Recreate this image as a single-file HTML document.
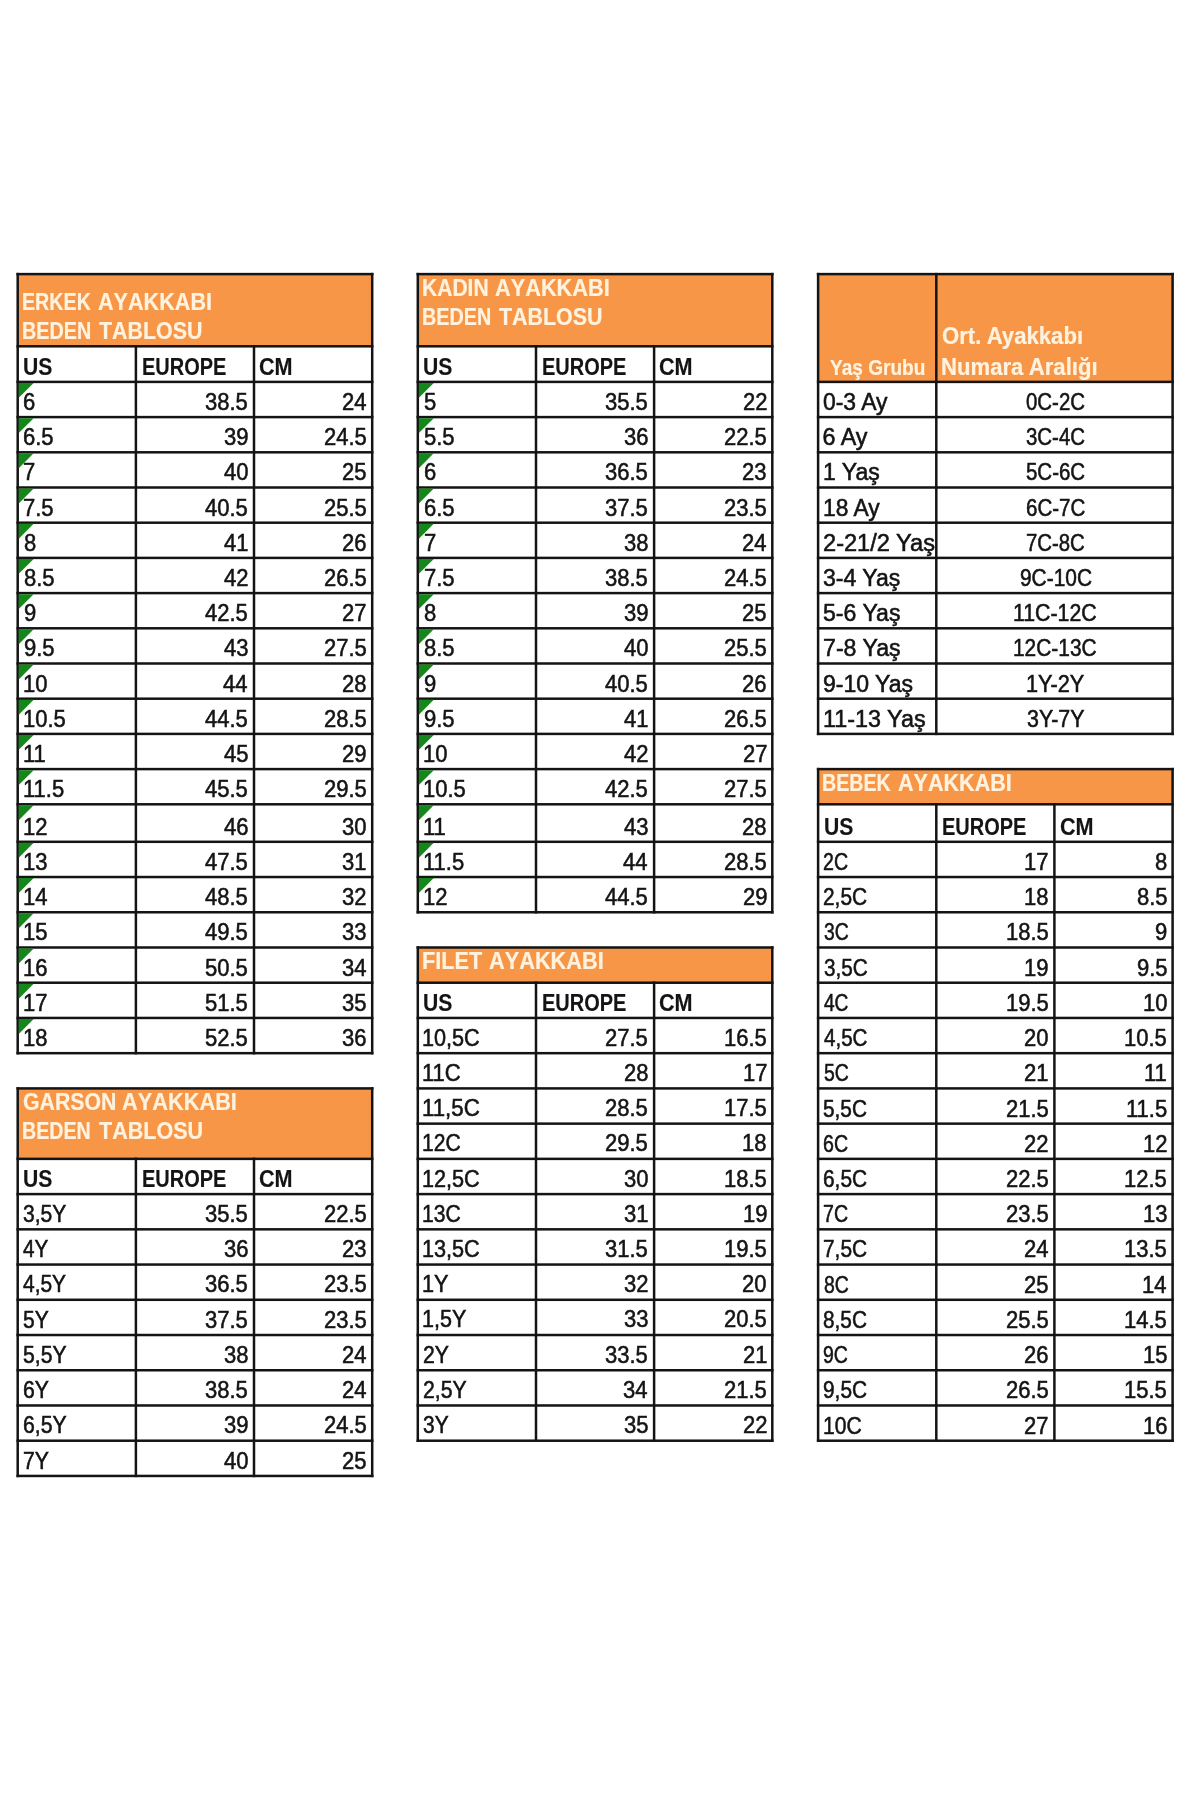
<!DOCTYPE html>
<html><head><meta charset="utf-8"><title>Beden Tablosu</title>
<style>
html,body{margin:0;padding:0;background:#fff;}
body{width:1200px;height:1800px;position:relative;overflow:hidden;font-family:"Liberation Sans",sans-serif;}
svg{position:absolute;left:0;top:0;}
.t{position:absolute;white-space:nowrap;line-height:30px;height:30px;color:#141414;transform-origin:0 0;-webkit-text-stroke:0.55px currentColor;}
#w{position:absolute;left:0;top:0;width:1200px;height:1800px;filter:blur(0.45px);}
</style></head><body><div id="w">
<svg width="1200" height="1800" viewBox="0 0 1200 1800">
<rect x="17.70" y="274.10" width="354.50" height="72.20" fill="#F79646"/>
<rect x="16.45" y="272.85" width="357.00" height="2.5" fill="#141414"/>
<rect x="16.45" y="345.05" width="357.00" height="2.5" fill="#141414"/>
<rect x="16.45" y="380.65" width="357.00" height="2.5" fill="#141414"/>
<rect x="16.45" y="415.85" width="357.00" height="2.5" fill="#141414"/>
<rect x="16.45" y="451.05" width="357.00" height="2.5" fill="#141414"/>
<rect x="16.45" y="486.25" width="357.00" height="2.5" fill="#141414"/>
<rect x="16.45" y="521.45" width="357.00" height="2.5" fill="#141414"/>
<rect x="16.45" y="556.65" width="357.00" height="2.5" fill="#141414"/>
<rect x="16.45" y="591.85" width="357.00" height="2.5" fill="#141414"/>
<rect x="16.45" y="627.05" width="357.00" height="2.5" fill="#141414"/>
<rect x="16.45" y="662.25" width="357.00" height="2.5" fill="#141414"/>
<rect x="16.45" y="697.45" width="357.00" height="2.5" fill="#141414"/>
<rect x="16.45" y="732.65" width="357.00" height="2.5" fill="#141414"/>
<rect x="16.45" y="767.85" width="357.00" height="2.5" fill="#141414"/>
<rect x="16.45" y="803.05" width="357.00" height="2.5" fill="#141414"/>
<rect x="16.45" y="840.55" width="357.00" height="2.5" fill="#141414"/>
<rect x="16.45" y="875.78" width="357.00" height="2.5" fill="#141414"/>
<rect x="16.45" y="911.01" width="357.00" height="2.5" fill="#141414"/>
<rect x="16.45" y="946.24" width="357.00" height="2.5" fill="#141414"/>
<rect x="16.45" y="981.47" width="357.00" height="2.5" fill="#141414"/>
<rect x="16.45" y="1016.70" width="357.00" height="2.5" fill="#141414"/>
<rect x="16.45" y="1051.93" width="357.00" height="2.5" fill="#141414"/>
<rect x="16.45" y="272.85" width="2.5" height="781.58" fill="#141414"/>
<rect x="370.95" y="272.85" width="2.5" height="781.58" fill="#141414"/>
<rect x="134.65" y="345.05" width="2.5" height="709.38" fill="#141414"/>
<rect x="252.75" y="345.05" width="2.5" height="709.38" fill="#141414"/>
<path d="M18.75 382.95h14.9l-14.9 14.9z" fill="#15861a"/>
<path d="M18.75 418.15h14.9l-14.9 14.9z" fill="#15861a"/>
<path d="M18.75 453.35h14.9l-14.9 14.9z" fill="#15861a"/>
<path d="M18.75 488.55h14.9l-14.9 14.9z" fill="#15861a"/>
<path d="M18.75 523.75h14.9l-14.9 14.9z" fill="#15861a"/>
<path d="M18.75 558.95h14.9l-14.9 14.9z" fill="#15861a"/>
<path d="M18.75 594.15h14.9l-14.9 14.9z" fill="#15861a"/>
<path d="M18.75 629.35h14.9l-14.9 14.9z" fill="#15861a"/>
<path d="M18.75 664.55h14.9l-14.9 14.9z" fill="#15861a"/>
<path d="M18.75 699.75h14.9l-14.9 14.9z" fill="#15861a"/>
<path d="M18.75 734.95h14.9l-14.9 14.9z" fill="#15861a"/>
<path d="M18.75 770.15h14.9l-14.9 14.9z" fill="#15861a"/>
<path d="M18.75 805.35h14.9l-14.9 14.9z" fill="#15861a"/>
<path d="M18.75 842.85h14.9l-14.9 14.9z" fill="#15861a"/>
<path d="M18.75 878.08h14.9l-14.9 14.9z" fill="#15861a"/>
<path d="M18.75 913.31h14.9l-14.9 14.9z" fill="#15861a"/>
<path d="M18.75 948.54h14.9l-14.9 14.9z" fill="#15861a"/>
<path d="M18.75 983.77h14.9l-14.9 14.9z" fill="#15861a"/>
<path d="M18.75 1019.00h14.9l-14.9 14.9z" fill="#15861a"/>
<rect x="417.80" y="274.10" width="354.50" height="72.20" fill="#F79646"/>
<rect x="416.55" y="272.85" width="357.00" height="2.5" fill="#141414"/>
<rect x="416.55" y="345.05" width="357.00" height="2.5" fill="#141414"/>
<rect x="416.55" y="380.65" width="357.00" height="2.5" fill="#141414"/>
<rect x="416.55" y="415.85" width="357.00" height="2.5" fill="#141414"/>
<rect x="416.55" y="451.05" width="357.00" height="2.5" fill="#141414"/>
<rect x="416.55" y="486.25" width="357.00" height="2.5" fill="#141414"/>
<rect x="416.55" y="521.45" width="357.00" height="2.5" fill="#141414"/>
<rect x="416.55" y="556.65" width="357.00" height="2.5" fill="#141414"/>
<rect x="416.55" y="591.85" width="357.00" height="2.5" fill="#141414"/>
<rect x="416.55" y="627.05" width="357.00" height="2.5" fill="#141414"/>
<rect x="416.55" y="662.25" width="357.00" height="2.5" fill="#141414"/>
<rect x="416.55" y="697.45" width="357.00" height="2.5" fill="#141414"/>
<rect x="416.55" y="732.65" width="357.00" height="2.5" fill="#141414"/>
<rect x="416.55" y="767.85" width="357.00" height="2.5" fill="#141414"/>
<rect x="416.55" y="803.05" width="357.00" height="2.5" fill="#141414"/>
<rect x="416.55" y="840.55" width="357.00" height="2.5" fill="#141414"/>
<rect x="416.55" y="875.78" width="357.00" height="2.5" fill="#141414"/>
<rect x="416.55" y="911.01" width="357.00" height="2.5" fill="#141414"/>
<rect x="416.55" y="272.85" width="2.5" height="640.66" fill="#141414"/>
<rect x="771.05" y="272.85" width="2.5" height="640.66" fill="#141414"/>
<rect x="534.75" y="345.05" width="2.5" height="568.46" fill="#141414"/>
<rect x="652.85" y="345.05" width="2.5" height="568.46" fill="#141414"/>
<path d="M418.85 382.95h14.9l-14.9 14.9z" fill="#15861a"/>
<path d="M418.85 418.15h14.9l-14.9 14.9z" fill="#15861a"/>
<path d="M418.85 453.35h14.9l-14.9 14.9z" fill="#15861a"/>
<path d="M418.85 488.55h14.9l-14.9 14.9z" fill="#15861a"/>
<path d="M418.85 523.75h14.9l-14.9 14.9z" fill="#15861a"/>
<path d="M418.85 558.95h14.9l-14.9 14.9z" fill="#15861a"/>
<path d="M418.85 594.15h14.9l-14.9 14.9z" fill="#15861a"/>
<path d="M418.85 629.35h14.9l-14.9 14.9z" fill="#15861a"/>
<path d="M418.85 664.55h14.9l-14.9 14.9z" fill="#15861a"/>
<path d="M418.85 699.75h14.9l-14.9 14.9z" fill="#15861a"/>
<path d="M418.85 734.95h14.9l-14.9 14.9z" fill="#15861a"/>
<path d="M418.85 770.15h14.9l-14.9 14.9z" fill="#15861a"/>
<path d="M418.85 805.35h14.9l-14.9 14.9z" fill="#15861a"/>
<path d="M418.85 842.85h14.9l-14.9 14.9z" fill="#15861a"/>
<path d="M418.85 878.08h14.9l-14.9 14.9z" fill="#15861a"/>
<rect x="17.70" y="1088.41" width="354.50" height="70.46" fill="#F79646"/>
<rect x="16.45" y="1087.16" width="357.00" height="2.5" fill="#141414"/>
<rect x="16.45" y="1157.62" width="357.00" height="2.5" fill="#141414"/>
<rect x="16.45" y="1192.85" width="357.00" height="2.5" fill="#141414"/>
<rect x="16.45" y="1228.08" width="357.00" height="2.5" fill="#141414"/>
<rect x="16.45" y="1263.31" width="357.00" height="2.5" fill="#141414"/>
<rect x="16.45" y="1298.54" width="357.00" height="2.5" fill="#141414"/>
<rect x="16.45" y="1333.77" width="357.00" height="2.5" fill="#141414"/>
<rect x="16.45" y="1369.00" width="357.00" height="2.5" fill="#141414"/>
<rect x="16.45" y="1404.23" width="357.00" height="2.5" fill="#141414"/>
<rect x="16.45" y="1439.46" width="357.00" height="2.5" fill="#141414"/>
<rect x="16.45" y="1474.69" width="357.00" height="2.5" fill="#141414"/>
<rect x="16.45" y="1087.16" width="2.5" height="390.03" fill="#141414"/>
<rect x="370.95" y="1087.16" width="2.5" height="390.03" fill="#141414"/>
<rect x="134.65" y="1157.62" width="2.5" height="319.57" fill="#141414"/>
<rect x="252.75" y="1157.62" width="2.5" height="319.57" fill="#141414"/>
<rect x="417.80" y="947.49" width="354.50" height="35.23" fill="#F79646"/>
<rect x="416.55" y="946.24" width="357.00" height="2.5" fill="#141414"/>
<rect x="416.55" y="981.47" width="357.00" height="2.5" fill="#141414"/>
<rect x="416.55" y="1016.70" width="357.00" height="2.5" fill="#141414"/>
<rect x="416.55" y="1051.93" width="357.00" height="2.5" fill="#141414"/>
<rect x="416.55" y="1087.16" width="357.00" height="2.5" fill="#141414"/>
<rect x="416.55" y="1122.39" width="357.00" height="2.5" fill="#141414"/>
<rect x="416.55" y="1157.62" width="357.00" height="2.5" fill="#141414"/>
<rect x="416.55" y="1192.85" width="357.00" height="2.5" fill="#141414"/>
<rect x="416.55" y="1228.08" width="357.00" height="2.5" fill="#141414"/>
<rect x="416.55" y="1263.31" width="357.00" height="2.5" fill="#141414"/>
<rect x="416.55" y="1298.54" width="357.00" height="2.5" fill="#141414"/>
<rect x="416.55" y="1333.77" width="357.00" height="2.5" fill="#141414"/>
<rect x="416.55" y="1369.00" width="357.00" height="2.5" fill="#141414"/>
<rect x="416.55" y="1404.23" width="357.00" height="2.5" fill="#141414"/>
<rect x="416.55" y="1439.46" width="357.00" height="2.5" fill="#141414"/>
<rect x="416.55" y="946.24" width="2.5" height="495.72" fill="#141414"/>
<rect x="771.05" y="946.24" width="2.5" height="495.72" fill="#141414"/>
<rect x="534.75" y="981.47" width="2.5" height="460.49" fill="#141414"/>
<rect x="652.85" y="981.47" width="2.5" height="460.49" fill="#141414"/>
<rect x="818.10" y="769.10" width="354.50" height="35.20" fill="#F79646"/>
<rect x="816.85" y="767.85" width="357.00" height="2.5" fill="#141414"/>
<rect x="816.85" y="803.05" width="357.00" height="2.5" fill="#141414"/>
<rect x="816.85" y="840.55" width="357.00" height="2.5" fill="#141414"/>
<rect x="816.85" y="875.78" width="357.00" height="2.5" fill="#141414"/>
<rect x="816.85" y="911.01" width="357.00" height="2.5" fill="#141414"/>
<rect x="816.85" y="946.24" width="357.00" height="2.5" fill="#141414"/>
<rect x="816.85" y="981.47" width="357.00" height="2.5" fill="#141414"/>
<rect x="816.85" y="1016.70" width="357.00" height="2.5" fill="#141414"/>
<rect x="816.85" y="1051.93" width="357.00" height="2.5" fill="#141414"/>
<rect x="816.85" y="1087.16" width="357.00" height="2.5" fill="#141414"/>
<rect x="816.85" y="1122.39" width="357.00" height="2.5" fill="#141414"/>
<rect x="816.85" y="1157.62" width="357.00" height="2.5" fill="#141414"/>
<rect x="816.85" y="1192.85" width="357.00" height="2.5" fill="#141414"/>
<rect x="816.85" y="1228.08" width="357.00" height="2.5" fill="#141414"/>
<rect x="816.85" y="1263.31" width="357.00" height="2.5" fill="#141414"/>
<rect x="816.85" y="1298.54" width="357.00" height="2.5" fill="#141414"/>
<rect x="816.85" y="1333.77" width="357.00" height="2.5" fill="#141414"/>
<rect x="816.85" y="1369.00" width="357.00" height="2.5" fill="#141414"/>
<rect x="816.85" y="1404.23" width="357.00" height="2.5" fill="#141414"/>
<rect x="816.85" y="1439.46" width="357.00" height="2.5" fill="#141414"/>
<rect x="816.85" y="767.85" width="2.5" height="674.11" fill="#141414"/>
<rect x="1171.35" y="767.85" width="2.5" height="674.11" fill="#141414"/>
<rect x="935.05" y="803.05" width="2.5" height="638.91" fill="#141414"/>
<rect x="1053.15" y="803.05" width="2.5" height="638.91" fill="#141414"/>
<rect x="818.10" y="274.10" width="354.50" height="107.80" fill="#F79646"/>
<rect x="816.85" y="272.85" width="357.00" height="2.5" fill="#141414"/>
<rect x="816.85" y="380.65" width="357.00" height="2.5" fill="#141414"/>
<rect x="816.85" y="415.85" width="357.00" height="2.5" fill="#141414"/>
<rect x="816.85" y="451.05" width="357.00" height="2.5" fill="#141414"/>
<rect x="816.85" y="486.25" width="357.00" height="2.5" fill="#141414"/>
<rect x="816.85" y="521.45" width="357.00" height="2.5" fill="#141414"/>
<rect x="816.85" y="556.65" width="357.00" height="2.5" fill="#141414"/>
<rect x="816.85" y="591.85" width="357.00" height="2.5" fill="#141414"/>
<rect x="816.85" y="627.05" width="357.00" height="2.5" fill="#141414"/>
<rect x="816.85" y="662.25" width="357.00" height="2.5" fill="#141414"/>
<rect x="816.85" y="697.45" width="357.00" height="2.5" fill="#141414"/>
<rect x="816.85" y="732.65" width="357.00" height="2.5" fill="#141414"/>
<rect x="816.85" y="272.85" width="2.5" height="462.30" fill="#141414"/>
<rect x="935.05" y="272.85" width="2.5" height="462.30" fill="#141414"/>
<rect x="1171.35" y="272.85" width="2.5" height="462.30" fill="#141414"/>
</svg>
<div class="t" style="left:23.13px;top:352.29px;font-size:23.4px;font-weight:bold;-webkit-text-stroke-width:0.15px;transform:scaleX(0.9029);">US</div>
<div class="t" style="left:141.50px;top:352.29px;font-size:23.4px;font-weight:bold;-webkit-text-stroke-width:0.15px;transform:scaleX(0.8534);">EUROPE</div>
<div class="t" style="left:259.34px;top:352.29px;font-size:23.4px;font-weight:bold;-webkit-text-stroke-width:0.15px;transform:scaleX(0.9241);">CM</div>
<div class="t" style="left:23.40px;top:387.03px;font-size:23.3px;transform:scaleX(0.9450);">6</div>
<div class="t" style="left:205.35px;top:387.03px;font-size:23.3px;transform:scaleX(0.9450);">38.5</div>
<div class="t" style="left:341.98px;top:387.03px;font-size:23.3px;transform:scaleX(0.9450);">24</div>
<div class="t" style="left:23.40px;top:422.23px;font-size:23.3px;transform:scaleX(0.9450);">6.5</div>
<div class="t" style="left:223.82px;top:422.23px;font-size:23.3px;transform:scaleX(0.9450);">39</div>
<div class="t" style="left:323.95px;top:422.23px;font-size:23.3px;transform:scaleX(0.9450);">24.5</div>
<div class="t" style="left:23.40px;top:457.43px;font-size:23.3px;transform:scaleX(0.9450);">7</div>
<div class="t" style="left:223.60px;top:457.43px;font-size:23.3px;transform:scaleX(0.9450);">40</div>
<div class="t" style="left:342.31px;top:457.43px;font-size:23.3px;transform:scaleX(0.9450);">25</div>
<div class="t" style="left:23.40px;top:492.63px;font-size:23.3px;transform:scaleX(0.9450);">7.5</div>
<div class="t" style="left:205.35px;top:492.63px;font-size:23.3px;transform:scaleX(0.9450);">40.5</div>
<div class="t" style="left:323.95px;top:492.63px;font-size:23.3px;transform:scaleX(0.9450);">25.5</div>
<div class="t" style="left:23.62px;top:527.83px;font-size:23.3px;transform:scaleX(0.9450);">8</div>
<div class="t" style="left:223.82px;top:527.83px;font-size:23.3px;transform:scaleX(0.9450);">41</div>
<div class="t" style="left:342.31px;top:527.83px;font-size:23.3px;transform:scaleX(0.9450);">26</div>
<div class="t" style="left:23.62px;top:563.03px;font-size:23.3px;transform:scaleX(0.9450);">8.5</div>
<div class="t" style="left:223.82px;top:563.03px;font-size:23.3px;transform:scaleX(0.9450);">42</div>
<div class="t" style="left:323.95px;top:563.03px;font-size:23.3px;transform:scaleX(0.9450);">26.5</div>
<div class="t" style="left:23.51px;top:598.23px;font-size:23.3px;transform:scaleX(0.9450);">9</div>
<div class="t" style="left:205.35px;top:598.23px;font-size:23.3px;transform:scaleX(0.9450);">42.5</div>
<div class="t" style="left:342.42px;top:598.23px;font-size:23.3px;transform:scaleX(0.9450);">27</div>
<div class="t" style="left:23.51px;top:633.43px;font-size:23.3px;transform:scaleX(0.9450);">9.5</div>
<div class="t" style="left:223.71px;top:633.43px;font-size:23.3px;transform:scaleX(0.9450);">43</div>
<div class="t" style="left:323.95px;top:633.43px;font-size:23.3px;transform:scaleX(0.9450);">27.5</div>
<div class="t" style="left:22.85px;top:668.63px;font-size:23.3px;transform:scaleX(0.9450);">10</div>
<div class="t" style="left:223.38px;top:668.63px;font-size:23.3px;transform:scaleX(0.9450);">44</div>
<div class="t" style="left:342.31px;top:668.63px;font-size:23.3px;transform:scaleX(0.9450);">28</div>
<div class="t" style="left:22.85px;top:703.83px;font-size:23.3px;transform:scaleX(0.9450);">10.5</div>
<div class="t" style="left:205.35px;top:703.83px;font-size:23.3px;transform:scaleX(0.9450);">44.5</div>
<div class="t" style="left:323.95px;top:703.83px;font-size:23.3px;transform:scaleX(0.9450);">28.5</div>
<div class="t" style="left:22.85px;top:739.03px;font-size:23.3px;transform:scaleX(0.9450);">11</div>
<div class="t" style="left:223.71px;top:739.03px;font-size:23.3px;transform:scaleX(0.9450);">45</div>
<div class="t" style="left:342.42px;top:739.03px;font-size:23.3px;transform:scaleX(0.9450);">29</div>
<div class="t" style="left:22.85px;top:774.23px;font-size:23.3px;transform:scaleX(0.9450);">11.5</div>
<div class="t" style="left:205.35px;top:774.23px;font-size:23.3px;transform:scaleX(0.9450);">45.5</div>
<div class="t" style="left:323.95px;top:774.23px;font-size:23.3px;transform:scaleX(0.9450);">29.5</div>
<div class="t" style="left:22.85px;top:811.73px;font-size:23.3px;transform:scaleX(0.9450);">12</div>
<div class="t" style="left:223.71px;top:811.73px;font-size:23.3px;transform:scaleX(0.9450);">46</div>
<div class="t" style="left:342.20px;top:811.73px;font-size:23.3px;transform:scaleX(0.9450);">30</div>
<div class="t" style="left:22.85px;top:846.96px;font-size:23.3px;transform:scaleX(0.9450);">13</div>
<div class="t" style="left:205.35px;top:846.96px;font-size:23.3px;transform:scaleX(0.9450);">47.5</div>
<div class="t" style="left:342.42px;top:846.96px;font-size:23.3px;transform:scaleX(0.9450);">31</div>
<div class="t" style="left:22.85px;top:882.19px;font-size:23.3px;transform:scaleX(0.9450);">14</div>
<div class="t" style="left:205.35px;top:882.19px;font-size:23.3px;transform:scaleX(0.9450);">48.5</div>
<div class="t" style="left:342.42px;top:882.19px;font-size:23.3px;transform:scaleX(0.9450);">32</div>
<div class="t" style="left:22.85px;top:917.42px;font-size:23.3px;transform:scaleX(0.9450);">15</div>
<div class="t" style="left:205.35px;top:917.42px;font-size:23.3px;transform:scaleX(0.9450);">49.5</div>
<div class="t" style="left:342.31px;top:917.42px;font-size:23.3px;transform:scaleX(0.9450);">33</div>
<div class="t" style="left:22.85px;top:952.65px;font-size:23.3px;transform:scaleX(0.9450);">16</div>
<div class="t" style="left:205.35px;top:952.65px;font-size:23.3px;transform:scaleX(0.9450);">50.5</div>
<div class="t" style="left:341.98px;top:952.65px;font-size:23.3px;transform:scaleX(0.9450);">34</div>
<div class="t" style="left:22.85px;top:987.88px;font-size:23.3px;transform:scaleX(0.9450);">17</div>
<div class="t" style="left:205.35px;top:987.88px;font-size:23.3px;transform:scaleX(0.9450);">51.5</div>
<div class="t" style="left:342.31px;top:987.88px;font-size:23.3px;transform:scaleX(0.9450);">35</div>
<div class="t" style="left:22.85px;top:1023.11px;font-size:23.3px;transform:scaleX(0.9450);">18</div>
<div class="t" style="left:205.35px;top:1023.11px;font-size:23.3px;transform:scaleX(0.9450);">52.5</div>
<div class="t" style="left:342.31px;top:1023.11px;font-size:23.3px;transform:scaleX(0.9450);">36</div>
<div class="t" style="left:22.47px;top:286.51px;font-size:24.5px;color:#FFF3E0;font-weight:bold;font-kerning:none;-webkit-text-stroke-width:0.2px;transform:scaleX(0.8030);">ERKEK</div>
<div class="t" style="left:97.77px;top:286.51px;font-size:24.5px;color:#FFF3E0;font-weight:bold;font-kerning:none;-webkit-text-stroke-width:0.2px;transform:scaleX(0.8815);">AYAKKABI</div>
<div class="t" style="left:22.47px;top:315.51px;font-size:24.5px;color:#FFF3E0;font-weight:bold;font-kerning:none;-webkit-text-stroke-width:0.2px;transform:scaleX(0.8064);">BEDEN</div>
<div class="t" style="left:99.49px;top:315.51px;font-size:24.5px;color:#FFF3E0;font-weight:bold;font-kerning:none;-webkit-text-stroke-width:0.2px;transform:scaleX(0.8727);">TABLOSU</div>
<div class="t" style="left:423.23px;top:352.29px;font-size:23.4px;font-weight:bold;-webkit-text-stroke-width:0.15px;transform:scaleX(0.9029);">US</div>
<div class="t" style="left:541.60px;top:352.29px;font-size:23.4px;font-weight:bold;-webkit-text-stroke-width:0.15px;transform:scaleX(0.8534);">EUROPE</div>
<div class="t" style="left:659.44px;top:352.29px;font-size:23.4px;font-weight:bold;-webkit-text-stroke-width:0.15px;transform:scaleX(0.9241);">CM</div>
<div class="t" style="left:423.72px;top:387.03px;font-size:23.3px;transform:scaleX(0.9450);">5</div>
<div class="t" style="left:605.45px;top:387.03px;font-size:23.3px;transform:scaleX(0.9450);">35.5</div>
<div class="t" style="left:742.52px;top:387.03px;font-size:23.3px;transform:scaleX(0.9450);">22</div>
<div class="t" style="left:423.72px;top:422.23px;font-size:23.3px;transform:scaleX(0.9450);">5.5</div>
<div class="t" style="left:623.81px;top:422.23px;font-size:23.3px;transform:scaleX(0.9450);">36</div>
<div class="t" style="left:724.05px;top:422.23px;font-size:23.3px;transform:scaleX(0.9450);">22.5</div>
<div class="t" style="left:423.50px;top:457.43px;font-size:23.3px;transform:scaleX(0.9450);">6</div>
<div class="t" style="left:605.45px;top:457.43px;font-size:23.3px;transform:scaleX(0.9450);">36.5</div>
<div class="t" style="left:742.41px;top:457.43px;font-size:23.3px;transform:scaleX(0.9450);">23</div>
<div class="t" style="left:423.50px;top:492.63px;font-size:23.3px;transform:scaleX(0.9450);">6.5</div>
<div class="t" style="left:605.45px;top:492.63px;font-size:23.3px;transform:scaleX(0.9450);">37.5</div>
<div class="t" style="left:724.05px;top:492.63px;font-size:23.3px;transform:scaleX(0.9450);">23.5</div>
<div class="t" style="left:423.50px;top:527.83px;font-size:23.3px;transform:scaleX(0.9450);">7</div>
<div class="t" style="left:623.81px;top:527.83px;font-size:23.3px;transform:scaleX(0.9450);">38</div>
<div class="t" style="left:742.08px;top:527.83px;font-size:23.3px;transform:scaleX(0.9450);">24</div>
<div class="t" style="left:423.50px;top:563.03px;font-size:23.3px;transform:scaleX(0.9450);">7.5</div>
<div class="t" style="left:605.45px;top:563.03px;font-size:23.3px;transform:scaleX(0.9450);">38.5</div>
<div class="t" style="left:724.05px;top:563.03px;font-size:23.3px;transform:scaleX(0.9450);">24.5</div>
<div class="t" style="left:423.72px;top:598.23px;font-size:23.3px;transform:scaleX(0.9450);">8</div>
<div class="t" style="left:623.92px;top:598.23px;font-size:23.3px;transform:scaleX(0.9450);">39</div>
<div class="t" style="left:742.41px;top:598.23px;font-size:23.3px;transform:scaleX(0.9450);">25</div>
<div class="t" style="left:423.72px;top:633.43px;font-size:23.3px;transform:scaleX(0.9450);">8.5</div>
<div class="t" style="left:623.70px;top:633.43px;font-size:23.3px;transform:scaleX(0.9450);">40</div>
<div class="t" style="left:724.05px;top:633.43px;font-size:23.3px;transform:scaleX(0.9450);">25.5</div>
<div class="t" style="left:423.61px;top:668.63px;font-size:23.3px;transform:scaleX(0.9450);">9</div>
<div class="t" style="left:605.45px;top:668.63px;font-size:23.3px;transform:scaleX(0.9450);">40.5</div>
<div class="t" style="left:742.41px;top:668.63px;font-size:23.3px;transform:scaleX(0.9450);">26</div>
<div class="t" style="left:423.61px;top:703.83px;font-size:23.3px;transform:scaleX(0.9450);">9.5</div>
<div class="t" style="left:623.92px;top:703.83px;font-size:23.3px;transform:scaleX(0.9450);">41</div>
<div class="t" style="left:724.05px;top:703.83px;font-size:23.3px;transform:scaleX(0.9450);">26.5</div>
<div class="t" style="left:422.95px;top:739.03px;font-size:23.3px;transform:scaleX(0.9450);">10</div>
<div class="t" style="left:623.92px;top:739.03px;font-size:23.3px;transform:scaleX(0.9450);">42</div>
<div class="t" style="left:742.52px;top:739.03px;font-size:23.3px;transform:scaleX(0.9450);">27</div>
<div class="t" style="left:422.95px;top:774.23px;font-size:23.3px;transform:scaleX(0.9450);">10.5</div>
<div class="t" style="left:605.45px;top:774.23px;font-size:23.3px;transform:scaleX(0.9450);">42.5</div>
<div class="t" style="left:724.05px;top:774.23px;font-size:23.3px;transform:scaleX(0.9450);">27.5</div>
<div class="t" style="left:422.95px;top:811.73px;font-size:23.3px;transform:scaleX(0.9450);">11</div>
<div class="t" style="left:623.81px;top:811.73px;font-size:23.3px;transform:scaleX(0.9450);">43</div>
<div class="t" style="left:742.41px;top:811.73px;font-size:23.3px;transform:scaleX(0.9450);">28</div>
<div class="t" style="left:422.95px;top:846.96px;font-size:23.3px;transform:scaleX(0.9450);">11.5</div>
<div class="t" style="left:623.48px;top:846.96px;font-size:23.3px;transform:scaleX(0.9450);">44</div>
<div class="t" style="left:724.05px;top:846.96px;font-size:23.3px;transform:scaleX(0.9450);">28.5</div>
<div class="t" style="left:422.95px;top:882.19px;font-size:23.3px;transform:scaleX(0.9450);">12</div>
<div class="t" style="left:605.45px;top:882.19px;font-size:23.3px;transform:scaleX(0.9450);">44.5</div>
<div class="t" style="left:742.52px;top:882.19px;font-size:23.3px;transform:scaleX(0.9450);">29</div>
<div class="t" style="left:422.38px;top:272.71px;font-size:24.5px;color:#FFF3E0;font-weight:bold;font-kerning:none;-webkit-text-stroke-width:0.2px;transform:scaleX(0.8589);">KADIN</div>
<div class="t" style="left:495.07px;top:272.71px;font-size:24.5px;color:#FFF3E0;font-weight:bold;font-kerning:none;-webkit-text-stroke-width:0.2px;transform:scaleX(0.8870);">AYAKKABI</div>
<div class="t" style="left:422.47px;top:301.71px;font-size:24.5px;color:#FFF3E0;font-weight:bold;font-kerning:none;-webkit-text-stroke-width:0.2px;transform:scaleX(0.8064);">BEDEN</div>
<div class="t" style="left:499.09px;top:301.71px;font-size:24.5px;color:#FFF3E0;font-weight:bold;font-kerning:none;-webkit-text-stroke-width:0.2px;transform:scaleX(0.8744);">TABLOSU</div>
<div class="t" style="left:23.13px;top:1164.19px;font-size:23.4px;font-weight:bold;-webkit-text-stroke-width:0.15px;transform:scaleX(0.9029);">US</div>
<div class="t" style="left:141.50px;top:1164.19px;font-size:23.4px;font-weight:bold;-webkit-text-stroke-width:0.15px;transform:scaleX(0.8534);">EUROPE</div>
<div class="t" style="left:259.34px;top:1164.19px;font-size:23.4px;font-weight:bold;-webkit-text-stroke-width:0.15px;transform:scaleX(0.9241);">CM</div>
<div class="t" style="left:23.16px;top:1198.96px;font-size:23.3px;transform:scaleX(0.9055);">3,5Y</div>
<div class="t" style="left:205.35px;top:1198.96px;font-size:23.3px;transform:scaleX(0.9450);">35.5</div>
<div class="t" style="left:323.95px;top:1198.96px;font-size:23.3px;transform:scaleX(0.9450);">22.5</div>
<div class="t" style="left:23.49px;top:1234.19px;font-size:23.3px;transform:scaleX(0.8866);">4Y</div>
<div class="t" style="left:223.71px;top:1234.19px;font-size:23.3px;transform:scaleX(0.9450);">36</div>
<div class="t" style="left:342.31px;top:1234.19px;font-size:23.3px;transform:scaleX(0.9450);">23</div>
<div class="t" style="left:23.48px;top:1269.42px;font-size:23.3px;transform:scaleX(0.8988);">4,5Y</div>
<div class="t" style="left:205.35px;top:1269.42px;font-size:23.3px;transform:scaleX(0.9450);">36.5</div>
<div class="t" style="left:323.95px;top:1269.42px;font-size:23.3px;transform:scaleX(0.9450);">23.5</div>
<div class="t" style="left:23.06px;top:1304.65px;font-size:23.3px;transform:scaleX(0.9019);">5Y</div>
<div class="t" style="left:205.35px;top:1304.65px;font-size:23.3px;transform:scaleX(0.9450);">37.5</div>
<div class="t" style="left:323.95px;top:1304.65px;font-size:23.3px;transform:scaleX(0.9450);">23.5</div>
<div class="t" style="left:23.05px;top:1339.88px;font-size:23.3px;transform:scaleX(0.9078);">5,5Y</div>
<div class="t" style="left:223.71px;top:1339.88px;font-size:23.3px;transform:scaleX(0.9450);">38</div>
<div class="t" style="left:341.98px;top:1339.88px;font-size:23.3px;transform:scaleX(0.9450);">24</div>
<div class="t" style="left:22.84px;top:1375.11px;font-size:23.3px;transform:scaleX(0.9097);">6Y</div>
<div class="t" style="left:205.35px;top:1375.11px;font-size:23.3px;transform:scaleX(0.9450);">38.5</div>
<div class="t" style="left:341.98px;top:1375.11px;font-size:23.3px;transform:scaleX(0.9450);">24</div>
<div class="t" style="left:22.84px;top:1410.34px;font-size:23.3px;transform:scaleX(0.9124);">6,5Y</div>
<div class="t" style="left:223.82px;top:1410.34px;font-size:23.3px;transform:scaleX(0.9450);">39</div>
<div class="t" style="left:323.95px;top:1410.34px;font-size:23.3px;transform:scaleX(0.9450);">24.5</div>
<div class="t" style="left:22.84px;top:1445.57px;font-size:23.3px;transform:scaleX(0.9097);">7Y</div>
<div class="t" style="left:223.60px;top:1445.57px;font-size:23.3px;transform:scaleX(0.9450);">40</div>
<div class="t" style="left:342.31px;top:1445.57px;font-size:23.3px;transform:scaleX(0.9450);">25</div>
<div class="t" style="left:22.75px;top:1087.12px;font-size:24.5px;color:#FFF3E0;font-weight:bold;font-kerning:none;-webkit-text-stroke-width:0.2px;transform:scaleX(0.8684);">GARSON</div>
<div class="t" style="left:121.86px;top:1087.12px;font-size:24.5px;color:#FFF3E0;font-weight:bold;font-kerning:none;-webkit-text-stroke-width:0.2px;transform:scaleX(0.8886);">AYAKKABI</div>
<div class="t" style="left:22.32px;top:1116.22px;font-size:24.5px;color:#FFF3E0;font-weight:bold;font-kerning:none;-webkit-text-stroke-width:0.2px;transform:scaleX(0.8022);">BEDEN</div>
<div class="t" style="left:99.08px;top:1116.22px;font-size:24.5px;color:#FFF3E0;font-weight:bold;font-kerning:none;-webkit-text-stroke-width:0.2px;transform:scaleX(0.8787);">TABLOSU</div>
<div class="t" style="left:423.23px;top:987.84px;font-size:23.4px;font-weight:bold;-webkit-text-stroke-width:0.15px;transform:scaleX(0.9029);">US</div>
<div class="t" style="left:541.60px;top:987.84px;font-size:23.4px;font-weight:bold;-webkit-text-stroke-width:0.15px;transform:scaleX(0.8534);">EUROPE</div>
<div class="t" style="left:659.44px;top:987.84px;font-size:23.4px;font-weight:bold;-webkit-text-stroke-width:0.15px;transform:scaleX(0.9241);">CM</div>
<div class="t" style="left:422.38px;top:1022.61px;font-size:23.3px;transform:scaleX(0.9285);">10,5C</div>
<div class="t" style="left:605.45px;top:1022.61px;font-size:23.3px;transform:scaleX(0.9450);">27.5</div>
<div class="t" style="left:724.05px;top:1022.61px;font-size:23.3px;transform:scaleX(0.9450);">16.5</div>
<div class="t" style="left:422.35px;top:1057.84px;font-size:23.3px;transform:scaleX(0.9453);">11C</div>
<div class="t" style="left:623.81px;top:1057.84px;font-size:23.3px;transform:scaleX(0.9450);">28</div>
<div class="t" style="left:742.52px;top:1057.84px;font-size:23.3px;transform:scaleX(0.9450);">17</div>
<div class="t" style="left:422.33px;top:1093.07px;font-size:23.3px;transform:scaleX(0.9562);">11,5C</div>
<div class="t" style="left:605.45px;top:1093.07px;font-size:23.3px;transform:scaleX(0.9450);">28.5</div>
<div class="t" style="left:724.05px;top:1093.07px;font-size:23.3px;transform:scaleX(0.9450);">17.5</div>
<div class="t" style="left:422.42px;top:1128.30px;font-size:23.3px;transform:scaleX(0.9046);">12C</div>
<div class="t" style="left:605.45px;top:1128.30px;font-size:23.3px;transform:scaleX(0.9450);">29.5</div>
<div class="t" style="left:742.41px;top:1128.30px;font-size:23.3px;transform:scaleX(0.9450);">18</div>
<div class="t" style="left:422.38px;top:1163.53px;font-size:23.3px;transform:scaleX(0.9285);">12,5C</div>
<div class="t" style="left:623.70px;top:1163.53px;font-size:23.3px;transform:scaleX(0.9450);">30</div>
<div class="t" style="left:724.05px;top:1163.53px;font-size:23.3px;transform:scaleX(0.9450);">18.5</div>
<div class="t" style="left:422.42px;top:1198.76px;font-size:23.3px;transform:scaleX(0.9046);">13C</div>
<div class="t" style="left:623.92px;top:1198.76px;font-size:23.3px;transform:scaleX(0.9450);">31</div>
<div class="t" style="left:742.52px;top:1198.76px;font-size:23.3px;transform:scaleX(0.9450);">19</div>
<div class="t" style="left:422.38px;top:1233.99px;font-size:23.3px;transform:scaleX(0.9285);">13,5C</div>
<div class="t" style="left:605.45px;top:1233.99px;font-size:23.3px;transform:scaleX(0.9450);">31.5</div>
<div class="t" style="left:724.05px;top:1233.99px;font-size:23.3px;transform:scaleX(0.9450);">19.5</div>
<div class="t" style="left:422.37px;top:1269.22px;font-size:23.3px;transform:scaleX(0.9299);">1Y</div>
<div class="t" style="left:623.92px;top:1269.22px;font-size:23.3px;transform:scaleX(0.9450);">32</div>
<div class="t" style="left:742.30px;top:1269.22px;font-size:23.3px;transform:scaleX(0.9450);">20</div>
<div class="t" style="left:422.39px;top:1304.45px;font-size:23.3px;transform:scaleX(0.9240);">1,5Y</div>
<div class="t" style="left:623.81px;top:1304.45px;font-size:23.3px;transform:scaleX(0.9450);">33</div>
<div class="t" style="left:724.05px;top:1304.45px;font-size:23.3px;transform:scaleX(0.9450);">20.5</div>
<div class="t" style="left:422.94px;top:1339.68px;font-size:23.3px;transform:scaleX(0.9097);">2Y</div>
<div class="t" style="left:605.45px;top:1339.68px;font-size:23.3px;transform:scaleX(0.9450);">33.5</div>
<div class="t" style="left:742.52px;top:1339.68px;font-size:23.3px;transform:scaleX(0.9450);">21</div>
<div class="t" style="left:422.94px;top:1374.91px;font-size:23.3px;transform:scaleX(0.9124);">2,5Y</div>
<div class="t" style="left:623.48px;top:1374.91px;font-size:23.3px;transform:scaleX(0.9450);">34</div>
<div class="t" style="left:724.05px;top:1374.91px;font-size:23.3px;transform:scaleX(0.9450);">21.5</div>
<div class="t" style="left:423.27px;top:1410.14px;font-size:23.3px;transform:scaleX(0.8980);">3Y</div>
<div class="t" style="left:623.81px;top:1410.14px;font-size:23.3px;transform:scaleX(0.9450);">35</div>
<div class="t" style="left:742.52px;top:1410.14px;font-size:23.3px;transform:scaleX(0.9450);">22</div>
<div class="t" style="left:422.34px;top:946.10px;font-size:24.5px;color:#FFF3E0;font-weight:bold;font-kerning:none;-webkit-text-stroke-width:0.2px;transform:scaleX(0.8845);">FILET</div>
<div class="t" style="left:488.97px;top:946.10px;font-size:24.5px;color:#FFF3E0;font-weight:bold;font-kerning:none;-webkit-text-stroke-width:0.2px;transform:scaleX(0.8870);">AYAKKABI</div>
<div class="t" style="left:823.53px;top:812.19px;font-size:23.4px;font-weight:bold;-webkit-text-stroke-width:0.15px;transform:scaleX(0.9029);">US</div>
<div class="t" style="left:941.90px;top:812.19px;font-size:23.4px;font-weight:bold;-webkit-text-stroke-width:0.15px;transform:scaleX(0.8534);">EUROPE</div>
<div class="t" style="left:1059.74px;top:812.19px;font-size:23.4px;font-weight:bold;-webkit-text-stroke-width:0.15px;transform:scaleX(0.9241);">CM</div>
<div class="t" style="left:823.32px;top:846.96px;font-size:23.3px;transform:scaleX(0.8395);">2C</div>
<div class="t" style="left:1024.22px;top:846.96px;font-size:23.3px;transform:scaleX(0.9450);">17</div>
<div class="t" style="left:1154.96px;top:846.96px;font-size:23.3px;transform:scaleX(0.9450);">8</div>
<div class="t" style="left:823.26px;top:882.19px;font-size:23.3px;transform:scaleX(0.8965);">2,5C</div>
<div class="t" style="left:1024.11px;top:882.19px;font-size:23.3px;transform:scaleX(0.9450);">18</div>
<div class="t" style="left:1136.60px;top:882.19px;font-size:23.3px;transform:scaleX(0.9450);">8.5</div>
<div class="t" style="left:823.62px;top:917.42px;font-size:23.3px;transform:scaleX(0.8291);">3C</div>
<div class="t" style="left:1005.75px;top:917.42px;font-size:23.3px;transform:scaleX(0.9450);">18.5</div>
<div class="t" style="left:1155.07px;top:917.42px;font-size:23.3px;transform:scaleX(0.9450);">9</div>
<div class="t" style="left:823.57px;top:952.65px;font-size:23.3px;transform:scaleX(0.8899);">3,5C</div>
<div class="t" style="left:1024.22px;top:952.65px;font-size:23.3px;transform:scaleX(0.9450);">19</div>
<div class="t" style="left:1136.60px;top:952.65px;font-size:23.3px;transform:scaleX(0.9450);">9.5</div>
<div class="t" style="left:823.92px;top:987.88px;font-size:23.3px;transform:scaleX(0.8189);">4C</div>
<div class="t" style="left:1005.75px;top:987.88px;font-size:23.3px;transform:scaleX(0.9450);">19.5</div>
<div class="t" style="left:1142.60px;top:987.88px;font-size:23.3px;transform:scaleX(0.9450);">10</div>
<div class="t" style="left:823.89px;top:1023.11px;font-size:23.3px;transform:scaleX(0.8834);">4,5C</div>
<div class="t" style="left:1024.00px;top:1023.11px;font-size:23.3px;transform:scaleX(0.9450);">20</div>
<div class="t" style="left:1124.35px;top:1023.11px;font-size:23.3px;transform:scaleX(0.9450);">10.5</div>
<div class="t" style="left:823.52px;top:1058.34px;font-size:23.3px;transform:scaleX(0.8325);">5C</div>
<div class="t" style="left:1024.22px;top:1058.34px;font-size:23.3px;transform:scaleX(0.9450);">21</div>
<div class="t" style="left:1144.46px;top:1058.34px;font-size:23.3px;transform:scaleX(0.9450);">11</div>
<div class="t" style="left:823.47px;top:1093.57px;font-size:23.3px;transform:scaleX(0.8921);">5,5C</div>
<div class="t" style="left:1005.75px;top:1093.57px;font-size:23.3px;transform:scaleX(0.9450);">21.5</div>
<div class="t" style="left:1125.99px;top:1093.57px;font-size:23.3px;transform:scaleX(0.9450);">11.5</div>
<div class="t" style="left:823.32px;top:1128.80px;font-size:23.3px;transform:scaleX(0.8395);">6C</div>
<div class="t" style="left:1024.22px;top:1128.80px;font-size:23.3px;transform:scaleX(0.9450);">22</div>
<div class="t" style="left:1142.82px;top:1128.80px;font-size:23.3px;transform:scaleX(0.9450);">12</div>
<div class="t" style="left:823.26px;top:1164.03px;font-size:23.3px;transform:scaleX(0.8965);">6,5C</div>
<div class="t" style="left:1005.75px;top:1164.03px;font-size:23.3px;transform:scaleX(0.9450);">22.5</div>
<div class="t" style="left:1124.35px;top:1164.03px;font-size:23.3px;transform:scaleX(0.9450);">12.5</div>
<div class="t" style="left:823.32px;top:1199.26px;font-size:23.3px;transform:scaleX(0.8395);">7C</div>
<div class="t" style="left:1005.75px;top:1199.26px;font-size:23.3px;transform:scaleX(0.9450);">23.5</div>
<div class="t" style="left:1142.71px;top:1199.26px;font-size:23.3px;transform:scaleX(0.9450);">13</div>
<div class="t" style="left:823.26px;top:1234.49px;font-size:23.3px;transform:scaleX(0.8965);">7,5C</div>
<div class="t" style="left:1023.78px;top:1234.49px;font-size:23.3px;transform:scaleX(0.9450);">24</div>
<div class="t" style="left:1124.35px;top:1234.49px;font-size:23.3px;transform:scaleX(0.9450);">13.5</div>
<div class="t" style="left:823.52px;top:1269.72px;font-size:23.3px;transform:scaleX(0.8325);">8C</div>
<div class="t" style="left:1024.11px;top:1269.72px;font-size:23.3px;transform:scaleX(0.9450);">25</div>
<div class="t" style="left:1142.38px;top:1269.72px;font-size:23.3px;transform:scaleX(0.9450);">14</div>
<div class="t" style="left:823.47px;top:1304.95px;font-size:23.3px;transform:scaleX(0.8921);">8,5C</div>
<div class="t" style="left:1005.75px;top:1304.95px;font-size:23.3px;transform:scaleX(0.9450);">25.5</div>
<div class="t" style="left:1124.35px;top:1304.95px;font-size:23.3px;transform:scaleX(0.9450);">14.5</div>
<div class="t" style="left:823.42px;top:1340.18px;font-size:23.3px;transform:scaleX(0.8360);">9C</div>
<div class="t" style="left:1024.11px;top:1340.18px;font-size:23.3px;transform:scaleX(0.9450);">26</div>
<div class="t" style="left:1142.71px;top:1340.18px;font-size:23.3px;transform:scaleX(0.9450);">15</div>
<div class="t" style="left:823.36px;top:1375.41px;font-size:23.3px;transform:scaleX(0.8943);">9,5C</div>
<div class="t" style="left:1005.75px;top:1375.41px;font-size:23.3px;transform:scaleX(0.9450);">26.5</div>
<div class="t" style="left:1124.35px;top:1375.41px;font-size:23.3px;transform:scaleX(0.9450);">15.5</div>
<div class="t" style="left:822.72px;top:1410.64px;font-size:23.3px;transform:scaleX(0.9046);">10C</div>
<div class="t" style="left:1024.22px;top:1410.64px;font-size:23.3px;transform:scaleX(0.9450);">27</div>
<div class="t" style="left:1142.71px;top:1410.64px;font-size:23.3px;transform:scaleX(0.9450);">16</div>
<div class="t" style="left:822.47px;top:767.51px;font-size:24.5px;color:#FFF3E0;font-weight:bold;font-kerning:none;-webkit-text-stroke-width:0.2px;transform:scaleX(0.8018);">BEBEK</div>
<div class="t" style="left:897.67px;top:767.51px;font-size:24.5px;color:#FFF3E0;font-weight:bold;font-kerning:none;-webkit-text-stroke-width:0.2px;transform:scaleX(0.8800);">AYAKKABI</div>
<div class="t" style="left:829.71px;top:352.95px;font-size:21.5px;color:#FFF3E0;font-weight:bold;-webkit-text-stroke-width:0.2px;transform:scaleX(0.8862);">Yaş Grubu</div>
<div class="t" style="left:941.61px;top:320.89px;font-size:23.4px;color:#FFF3E0;font-weight:bold;-webkit-text-stroke-width:0.2px;transform:scaleX(0.9464);">Ort. Ayakkabı</div>
<div class="t" style="left:941.06px;top:352.19px;font-size:23.4px;color:#FFF3E0;font-weight:bold;-webkit-text-stroke-width:0.2px;transform:scaleX(0.9463);">Numara Aralığı</div>
<div class="t" style="left:822.95px;top:387.03px;font-size:23.3px;transform:scaleX(0.9835);">0-3 Ay</div>
<div class="t" style="left:1026.29px;top:387.03px;font-size:23.3px;transform:scaleX(0.8759);">0C-2C</div>
<div class="t" style="left:822.59px;top:422.23px;font-size:23.3px;">6 Ay</div>
<div class="t" style="left:1026.29px;top:422.23px;font-size:23.3px;transform:scaleX(0.8759);">3C-4C</div>
<div class="t" style="left:822.77px;top:457.43px;font-size:23.3px;transform:scaleX(0.9887);">1 Yaş</div>
<div class="t" style="left:1026.18px;top:457.43px;font-size:23.3px;transform:scaleX(0.8775);">5C-6C</div>
<div class="t" style="left:822.79px;top:492.63px;font-size:23.3px;transform:scaleX(0.9799);">18 Ay</div>
<div class="t" style="left:1025.97px;top:492.63px;font-size:23.3px;transform:scaleX(0.8806);">6C-7C</div>
<div class="t" style="left:822.57px;top:527.83px;font-size:23.3px;transform:scaleX(1.0133);">2-21/2 Yaş</div>
<div class="t" style="left:1026.48px;top:527.83px;font-size:23.3px;transform:scaleX(0.8729);">7C-8C</div>
<div class="t" style="left:822.94px;top:563.03px;font-size:23.3px;transform:scaleX(0.9900);">3-4 Yaş</div>
<div class="t" style="left:1019.56px;top:563.03px;font-size:23.3px;transform:scaleX(0.8964);">9C-10C</div>
<div class="t" style="left:822.83px;top:598.23px;font-size:23.3px;transform:scaleX(0.9915);">5-6 Yaş</div>
<div class="t" style="left:1013.40px;top:598.23px;font-size:23.3px;transform:scaleX(0.9139);">11C-12C</div>
<div class="t" style="left:822.59px;top:633.43px;font-size:23.3px;transform:scaleX(0.9945);">7-8 Yaş</div>
<div class="t" style="left:1013.43px;top:633.43px;font-size:23.3px;transform:scaleX(0.8965);">12C-13C</div>
<div class="t" style="left:822.71px;top:668.63px;font-size:23.3px;transform:scaleX(0.9889);">9-10 Yaş</div>
<div class="t" style="left:1025.87px;top:668.63px;font-size:23.3px;transform:scaleX(0.9319);">1Y-2Y</div>
<div class="t" style="left:822.75px;top:703.83px;font-size:23.3px;transform:scaleX(1.0023);">11-13 Yaş</div>
<div class="t" style="left:1026.75px;top:703.83px;font-size:23.3px;transform:scaleX(0.9178);">3Y-7Y</div>
</div></body></html>
